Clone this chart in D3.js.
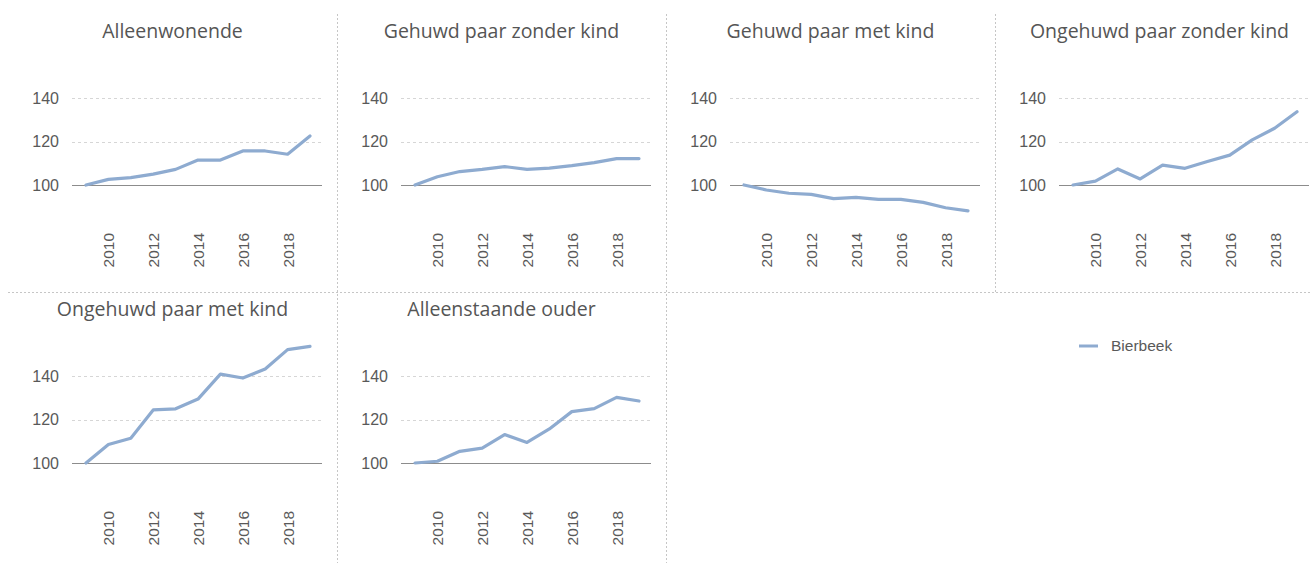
<!DOCTYPE html>
<html>
<head>
<meta charset="utf-8">
<script src="https://cdn.jsdelivr.net/npm/d3@7"></script>
<style>
    body { margin: 0; background: #fff; }
    text { font-family: Arial, "Liberation Sans", sans-serif; fill: #595959; }
    .title { font-family: "Open Sans", "Noto Sans", sans-serif; font-size: 19.5px; fill: #555; }
</style>
</head>
<body>
<div id="chart"></div>
<script>
const WIDTH = 1311;
const HEIGHT = 563;

const PANEL_W = 329;
const PANEL_H = 278;
const LEFT = 8;
const TOP = 14;

const LINE_COLOR = "#8eabd0";

// data
const years = [2009, 2010, 2011, 2012, 2013, 2014, 2015, 2016, 2017, 2018, 2019];
const yearTicks = [2010, 2012, 2014, 2016, 2018];
const valueTicks = [100, 120, 140];

const categories = [
    "Alleenwonende",
    "Gehuwd paar zonder kind",
    "Gehuwd paar met kind",
    "Ongehuwd paar zonder kind",
    "Ongehuwd paar met kind",
    "Alleenstaande ouder"
];

const alleenwonende = [100, 102.6, 103.4, 105, 107.2, 111.5, 111.5, 115.7, 115.7, 114.2, 122.6];
const gehuwdZonderKind = [100, 103.8, 106.2, 107.2, 108.5, 107.2, 107.8, 108.9, 110.3, 112.2, 112.2];
const gehuwdMetKind = [100, 97.7, 96.2, 95.7, 93.7, 94.3, 93.4, 93.4, 92, 89.5, 88.1];
const ongehuwdZonderKind = [100, 101.8, 107.4, 102.8, 109.2, 107.7, 110.8, 113.8, 120.8, 126.2, 133.8];
const ongehuwdMetKind = [100, 108.5, 111.4, 124.5, 125, 129.5, 141, 139.2, 143.4, 152.3, 153.8];
const alleenstaandeOuder = [100, 100.8, 105.4, 106.9, 113.1, 109.5, 115.7, 123.7, 125.1, 130.3, 128.6];

const seriesValues = [alleenwonende, gehuwdZonderKind, gehuwdMetKind, ongehuwdZonderKind, ongehuwdMetKind, alleenstaandeOuder];

const legendLabel = "Bierbeek";

const svg = d3.select("#chart")
    .append("svg")
    .attr("width", WIDTH)
    .attr("height", HEIGHT);

/* SEPARATORS */

const sep = svg.append("g")
    .attr("stroke", "#c6c6c6")
    .attr("stroke-dasharray", "2,2")
    .attr("stroke-width", 1);

sep.append("line")
    .attr("x1", LEFT).attr("x2", WIDTH)
    .attr("y1", TOP + PANEL_H + 0.5).attr("y2", TOP + PANEL_H + 0.5);

[1, 2, 3].forEach(c => {
    const xs = LEFT + c * PANEL_W + 0.5;
    sep.append("line")
        .attr("x1", xs).attr("x2", xs)
        .attr("y1", TOP).attr("y2", c < 3 ? HEIGHT : TOP + PANEL_H);
});

/* PANELS */

// scales are relative to a panel's own corner
const x = d3.scalePoint()
    .domain(years)
    .range([78, 302]);

const y = d3.scaleLinear()
    .domain([100, 140])
    .range([171, 84.3]);

const PLOT_LEFT = 64;
const PLOT_RIGHT = 314;

const line = d3.line()
    .x((d, i) => x(years[i]))
    .y(d => y(d));

categories.forEach((name, idx) => {
    const col = idx % 4;
    const row = Math.floor(idx / 4);

    const g = svg.append("g")
        .attr("transform", `translate(${LEFT + col * PANEL_W}, ${TOP + row * PANEL_H})`);

    g.append("text")
        .attr("class", "title")
        .attr("x", PANEL_W / 2)
        .attr("y", 24)
        .attr("text-anchor", "middle")
        .text(name);

    // grid lines, the 100 line is solid
    g.append("g").selectAll("line")
        .data(valueTicks)
        .enter()
        .append("line")
        .attr("x1", PLOT_LEFT)
        .attr("x2", PLOT_RIGHT)
        .attr("y1", d => Math.round(y(d)) + 0.5)
        .attr("y2", d => Math.round(y(d)) + 0.5)
        .attr("stroke", d => d === 100 ? "#8c8c8c" : "#d6d6d6")
        .attr("stroke-dasharray", d => d === 100 ? null : "3,3");

    const yAxis = g.append("g")
        .attr("transform", `translate(${PLOT_LEFT}, 0)`)
        .call(d3.axisLeft(y).tickValues(valueTicks).tickSize(0).tickPadding(13));
    yAxis.select(".domain").remove();
    yAxis.selectAll("text")
        .style("font-size", "16px")
        .style("font-family", "Arial, 'Liberation Sans', sans-serif")
        .attr("fill", "#595959");

    const xAxis = g.append("g")
        .attr("transform", "translate(0, 219)")
        .call(d3.axisBottom(x).tickValues(yearTicks).tickSize(0));
    xAxis.select(".domain").remove();
    xAxis.selectAll("text")
        .attr("x", 0)
        .attr("y", 0)
        .attr("dy", "0.35em")
        .attr("transform", "rotate(-90)")
        .style("text-anchor", "end")
        .style("font-size", "15.5px")
        .style("font-family", "Arial, 'Liberation Sans', sans-serif")
        .attr("fill", "#595959");

    g.append("path")
        .datum(seriesValues[idx])
        .attr("d", line)
        .attr("fill", "none")
        .attr("stroke", LINE_COLOR)
        .attr("stroke-width", 3.2)
        .attr("stroke-linejoin", "round")
        .attr("stroke-linecap", "round");
});

/* LEGEND */

const legend = svg.append("g")
    .attr("transform", "translate(1079, 346)");

legend.append("line")
    .attr("x1", 0).attr("x2", 19)
    .attr("stroke", LINE_COLOR)
    .attr("stroke-width", 3);

legend.append("text")
    .attr("x", 32)
    .attr("dy", "0.35em")
    .style("font-size", "15.5px")
    .text(legendLabel);
</script>
</body>
</html>
